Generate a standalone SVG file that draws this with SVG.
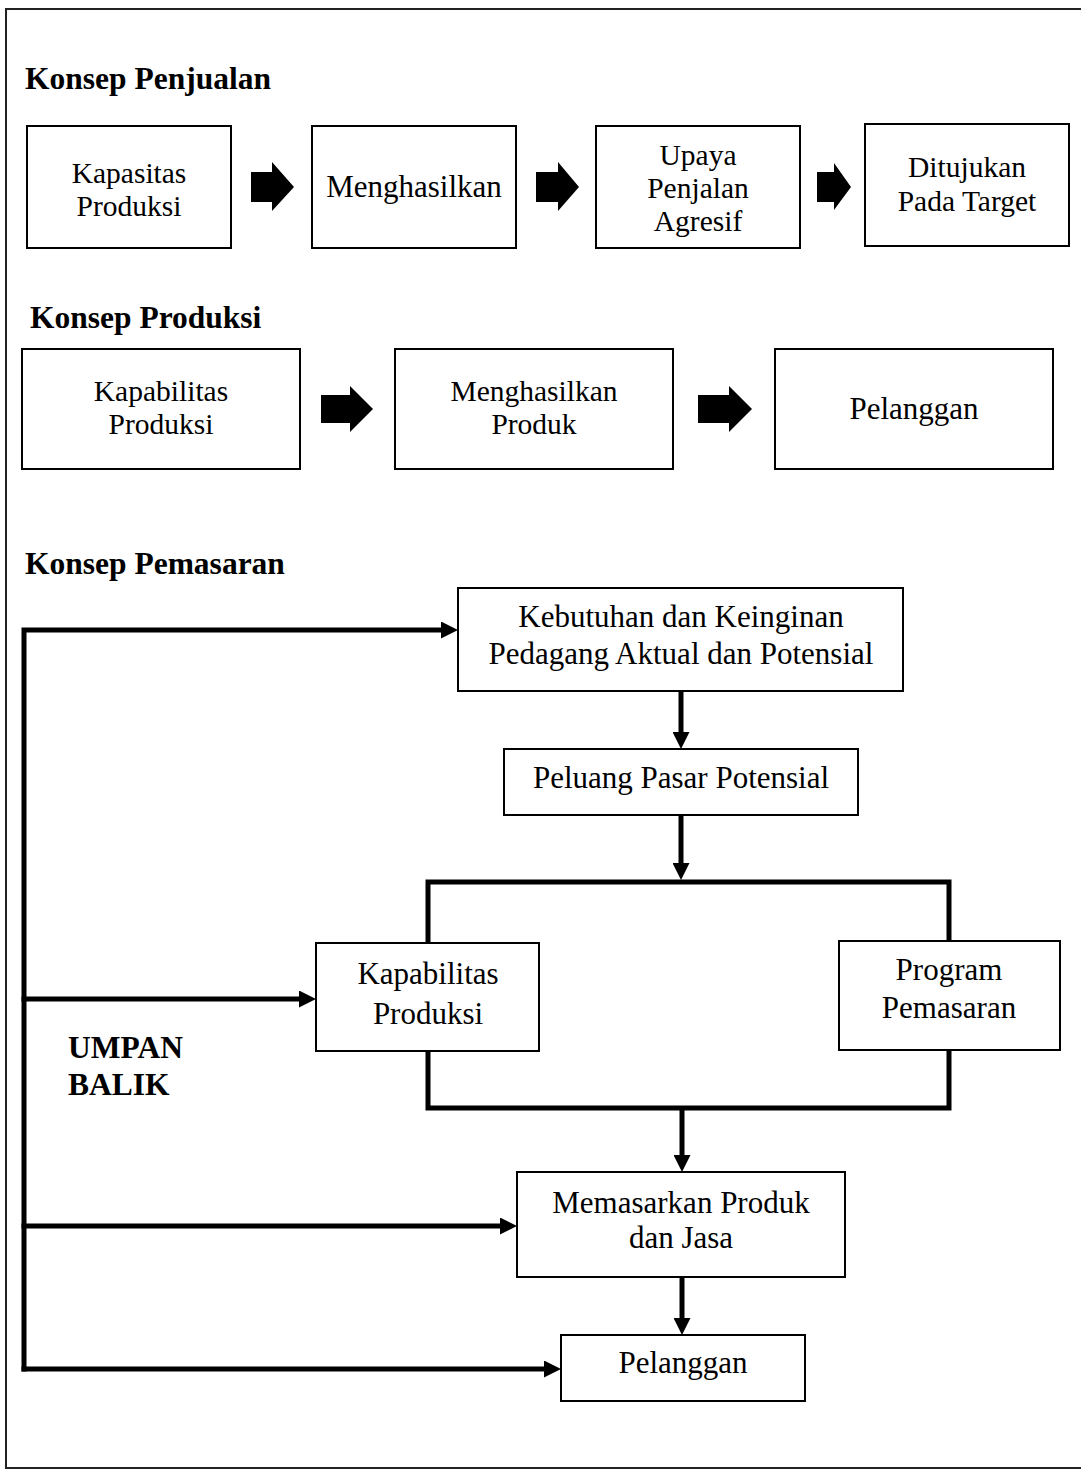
<svg xmlns="http://www.w3.org/2000/svg" width="1081" height="1472" viewBox="0 0 1081 1472">
<style>
.box{fill:#fff;stroke:#000;stroke-width:2}
.t{font-family:"Liberation Serif","Times New Roman",serif;font-size:31px;fill:#000;text-anchor:middle}
.s{font-size:29.5px}
.h{font-family:"Liberation Serif","Times New Roman",serif;font-size:31.5px;font-weight:bold;fill:#000}
.blk{fill:#000;stroke:none}
.conn{fill:none;stroke:#000;stroke-width:5}
.fb{fill:none;stroke:#000;stroke-width:5;stroke-linecap:square}
</style>
<defs>
<marker id="ah" markerUnits="userSpaceOnUse" markerWidth="17" markerHeight="17" refX="0" refY="8.5" orient="auto" viewBox="0 0 17 17">
<path d="M0,0 L17,8.5 L0,17 Z" fill="#000"/>
</marker>
</defs>
<rect x="0" y="0" width="1081" height="1472" fill="#fff"/>
<rect x="6" y="9" width="1090" height="1459" fill="none" stroke="#222" stroke-width="2"/>

<text class="h" x="25" y="89">Konsep Penjualan</text>
<text class="h" x="30" y="328">Konsep Produksi</text>
<text class="h" x="25" y="574">Konsep Pemasaran</text>

<g id="penjualan-kapasitas"><rect class="box" x="27" y="126" width="204" height="122"/><text class="t s" x="129" y="183">Kapasitas</text><text class="t s" x="129" y="216">Produksi</text></g>
<g id="penjualan-menghasilkan"><rect class="box" x="312" y="126" width="204" height="122"/><text class="t" x="414" y="197">Menghasilkan</text></g>
<g id="penjualan-upaya"><rect class="box" x="596" y="126" width="204" height="122"/><text class="t s" x="698" y="165">Upaya</text><text class="t s" x="698" y="198">Penjalan</text><text class="t s" x="698" y="231">Agresif</text></g>
<g id="penjualan-ditujukan"><rect class="box" x="865" y="124" width="204" height="122"/><text class="t s" x="967" y="177">Ditujukan</text><text class="t s" x="967" y="211">Pada Target</text></g>

<g id="produksi-kapabilitas"><rect class="box" x="22" y="349" width="278" height="120"/><text class="t s" x="161" y="401">Kapabilitas</text><text class="t s" x="161" y="434">Produksi</text></g>
<g id="produksi-menghasilkan"><rect class="box" x="395" y="349" width="278" height="120"/><text class="t s" x="534" y="401">Menghasilkan</text><text class="t s" x="534" y="434">Produk</text></g>
<g id="produksi-pelanggan"><rect class="box" x="775" y="349" width="278" height="120"/><text class="t" x="914" y="419">Pelanggan</text></g>

<g id="kebutuhan"><rect class="box" x="458" y="588" width="445" height="103"/><text class="t" x="681" y="627">Kebutuhan dan Keinginan</text><text class="t" x="681" y="664">Pedagang Aktual dan Potensial</text></g>
<g id="peluang"><rect class="box" x="504" y="749" width="354" height="66"/><text class="t" x="681" y="788">Peluang Pasar Potensial</text></g>
<g id="kapabilitas"><rect class="box" x="316" y="943" width="223" height="108"/><text class="t" x="428" y="984">Kapabilitas</text><text class="t" x="428" y="1024">Produksi</text></g>
<g id="program"><rect class="box" x="839" y="941" width="221" height="109"/><text class="t" x="949" y="980">Program</text><text class="t" x="949" y="1018">Pemasaran</text></g>
<g id="memasarkan"><rect class="box" x="517" y="1172" width="328" height="105"/><text class="t" x="681" y="1213">Memasarkan Produk</text><text class="t" x="681" y="1248">dan Jasa</text></g>
<g id="pelanggan"><rect class="box" x="561" y="1335" width="244" height="66"/><text class="t" x="683" y="1373">Pelanggan</text></g>
<g id="umpan-balik"><text class="h" x="68" y="1058">UMPAN</text><text class="h" x="68" y="1095">BALIK</text></g>

<g id="connectors">
<path class="blk" d="M251,172 H272 V162 L294,187 L272,211 V202 H251 Z"/>
<path class="blk" d="M536,172 H558 V162 L579,187 L558,211 V202 H536 Z"/>
<path class="blk" d="M817,172 H834 V163 L851,187 L834,210 V202 H817 Z"/>
<path class="blk" d="M321,395 H350 V386 L373,409 L350,432 V423 H321 Z"/>
<path class="blk" d="M698,395 H729 V386 L752,409 L729,432 V423 H698 Z"/>

<path class="conn" d="M681,691 V732" marker-end="url(#ah)"/>
<path class="conn" d="M681,815 V863" marker-end="url(#ah)"/>
<path class="conn" d="M428,943 V882 H949 V941"/>
<path class="conn" d="M428,1051 V1108 H949 V1050"/>
<path class="conn" d="M682,1108 V1155" marker-end="url(#ah)"/>
<path class="conn" d="M682,1277 V1318" marker-end="url(#ah)"/>

<path class="fb" d="M24,1369 V630 H441" marker-end="url(#ah)"/>
<path class="fb" d="M24,999 H299" marker-end="url(#ah)"/>
<path class="fb" d="M24,1226 H500" marker-end="url(#ah)"/>
<path class="fb" d="M24,1369 H544" marker-end="url(#ah)"/>
</g>
</svg>
